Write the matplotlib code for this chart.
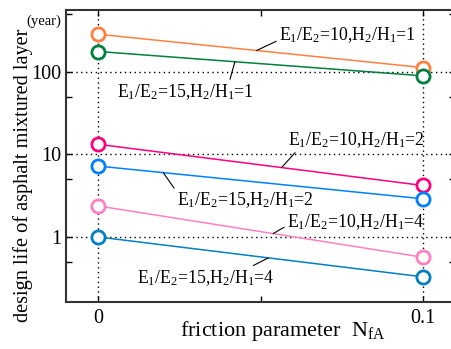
import matplotlib
matplotlib.use("Agg")
import matplotlib.pyplot as plt
import matplotlib.ticker as ticker
import numpy as np

# friction parameter N_fA and design life (year) per case
nfa = [0.0, 0.1]
life_10_1 = [283, 112]
life_15_1 = [175, 89]
life_10_2 = [13.2, 4.2]
life_15_2 = [7.2, 2.9]
life_10_4 = [2.37, 0.57]
life_15_4 = [1.0, 0.33]

labels = [
    r"E$_1$/E$_2$=10,H$_2$/H$_1$=1",
    r"E$_1$/E$_2$=15,H$_2$/H$_1$=1",
    r"E$_1$/E$_2$=10,H$_2$/H$_1$=2",
    r"E$_1$/E$_2$=15,H$_2$/H$_1$=2",
    r"E$_1$/E$_2$=10,H$_2$/H$_1$=4",
    r"E$_1$/E$_2$=15,H$_2$/H$_1$=4",
]
series = [life_10_1, life_15_1, life_10_2, life_15_2, life_10_4, life_15_4]
colors = ["#ff8040", "#008040", "#ff0080", "#0080ff", "#ff80c0", "#0080c0"]

# leader: x where it touches the line, text anchor (x, y), relpos on text box
leaders = [
    (0.0488, 0.0557, 277, "left", (0.0, 0.25)),
    (0.0421, 0.0058, 56.7, "left", (0.82, 1.0)),
    (0.0565, 0.0585, 14.9, "left", (0.07, 0.0)),
    (0.0200, 0.0242, 2.80, "left", (0.0, 0.9)),
    (0.0539, 0.0581, 1.53, "left", (0.0, 0.3)),
    (0.0524, 0.0118, 0.317, "left", (0.81, 1.0)),
]

plt.rcParams.update({
    "font.family": ["Liberation Serif", "DejaVu Serif"],
    "mathtext.fontset": "custom",
    "mathtext.rm": "Liberation Serif",
    "mathtext.it": "Liberation Serif:italic",
    "mathtext.bf": "Liberation Serif:bold",
    "font.size": 14,
})

fig = plt.figure(figsize=(4.52, 3.49), dpi=100)
ax = fig.add_axes([66 / 452, 1 - 301.7 / 349, (455 - 66) / 452, (301.7 - 10) / 349])

ax.set_yscale("log")
ax.set_xlim(-0.01, 0.11)
ax.set_ylim(0.165, 556)

ax.grid(True, which="major", color="black", lw=1.0, ls=(0, (1, 2.5)), zorder=0)

for vals, c in zip(series, colors):
    ax.plot(nfa, vals, "-", color=c, lw=1.1, zorder=2)
    ax.plot(nfa, vals, "o", ms=9.5, mfc="white", mec=c, mew=2.0, zorder=3,
            clip_on=False)

for lab, vals, (xl, tx, ty, ha, rp) in zip(labels, series, leaders):
    yl = 10 ** np.interp(xl, nfa, np.log10(vals))
    ax.annotate(lab, xy=(xl, yl), xytext=(tx, ty), textcoords="data",
                ha=ha, va="center", fontsize=12.8,
                arrowprops=dict(arrowstyle="-", lw=0.8, color="black",
                                shrinkA=0, shrinkB=0, relpos=rp),
                zorder=4)

ax.xaxis.set_major_locator(ticker.FixedLocator([0.0, 0.1]))
ax.xaxis.set_minor_locator(ticker.FixedLocator([0.05]))
ax.xaxis.set_major_formatter(ticker.FixedFormatter(["0", "0.1"]))
ax.yaxis.set_major_locator(ticker.FixedLocator([1, 10, 100]))
ax.yaxis.set_major_formatter(ticker.FixedFormatter(["1", "10", "100"]))
ax.yaxis.set_minor_locator(ticker.LogLocator(base=10, subs=[5.0]))
ax.yaxis.set_minor_formatter(ticker.NullFormatter())

ax.tick_params(which="both", direction="in", top=True, right=True,
               width=1.0, labelsize=14.5)
ax.tick_params(which="major", length=4.5)
ax.tick_params(which="minor", length=4)
ax.tick_params(axis="x", pad=5)
ax.tick_params(axis="y", pad=3)

for sp in ax.spines.values():
    sp.set_linewidth(1.5)
    sp.set_color("#333333")

ax.set_xlabel(r"friction parameter  N$_{\rm fA}$", fontsize=16)
ax.xaxis.set_label_coords(0.557, -0.058)
ax.set_ylabel("design life of asphalt mixtured layer", fontsize=14.6)
ax.yaxis.set_label_coords(-0.085, 0.432)
fig.text(44 / 452, 1 - 21 / 349, "(year)", fontsize=10.5, ha="center",
         va="center")

fig.savefig("out.png", dpi=100)
